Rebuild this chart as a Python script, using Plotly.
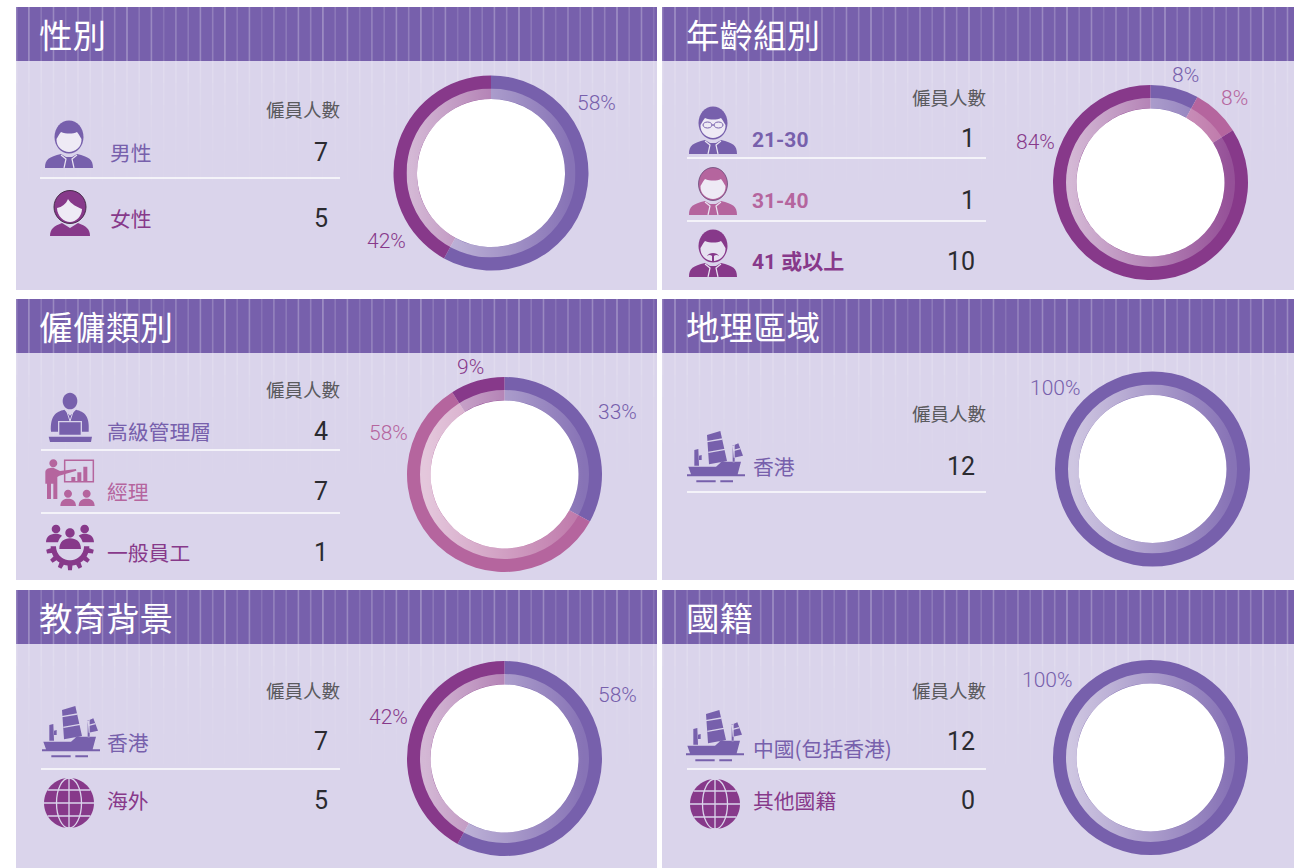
import re, base64
import numpy as np
import plotly.graph_objects as go

W, H = 1294, 868
PURPLE = "#7760AC"; PINK = "#B5659E"; MAG = "#87398A"; BG = "#DAD4EB"; HEAD = "#7760AC"
GREY = "#5A5A5E"; DARK = "#2B2B30"
CJK = "Noto Sans CJK TC"; NUM = "Roboto, Noto Sans CJK TC"

# ---- data ----
titles = ["性別", "年齡組別", "僱傭類別", "地理區域", "教育背景", "國籍"]
column_title = "僱員人數"
gender_labels = ["男性", "女性"];                 gender_counts = [7, 5];        gender_pct = [58, 42]
age_labels = ["21-30", "31-40", "41 或以上"];      age_counts = [1, 1, 10];       age_pct = [8, 8, 84]
job_labels = ["高級管理層", "經理", "一般員工"];     job_counts = [4, 7, 1];        job_pct = [33, 58, 9]
region_labels = ["香港"];                          region_counts = [12];          region_pct = [100]
edu_labels = ["香港", "海外"];                     edu_counts = [7, 5];           edu_pct = [58, 42]
nation_labels = ["中國(包括香港)", "其他國籍"];      nation_counts = [12, 0];       nation_pct = [100, 0]

# ---- layout description (positions and styles only) ----
panels = [
    dict(x0=16, x1=657, y0=7, y1=290, cols=[PURPLE, MAG], labels=gender_labels, counts=gender_counts, pct=gender_pct,
         c=(491, 173), head_y=109, lab_x=110, lab_y=[153, 219], num_y=[152, 218], div=[178], div_x=(40, 340), num_x=327,
         pct_pos=[(596, 103), (386, 241)]),
    dict(x0=662, x1=1294, y0=7, y1=290, cols=[PURPLE, PINK, MAG], labels=age_labels, counts=age_counts, pct=age_pct,
         c=(1150.5, 182.5), head_y=97, lab_x=752, lab_y=[140, 201, 262], num_y=[138, 200, 261], div=[158, 221], div_x=(687, 986), num_x=974,
         pct_pos=[(1185, 75), (1234, 98), (1035, 142)], bold=True),
    dict(x0=16, x1=657, y0=299, y1=580, cols=[PURPLE, PINK, MAG], labels=job_labels, counts=job_counts, pct=job_pct,
         c=(504.5, 474.5), head_y=389, lab_x=107, lab_y=[432, 492, 553], num_y=[431, 491, 552], div=[450, 513], div_x=(41, 340), num_x=327,
         pct_pos=[(617, 412), (388, 433), (470, 367)]),
    dict(x0=662, x1=1294, y0=299, y1=580, cols=[PURPLE], labels=region_labels, counts=region_counts, pct=region_pct,
         c=(1152.5, 469), head_y=413, lab_x=753, lab_y=[467], num_y=[466], div=[492], div_x=(687, 986), num_x=974,
         pct_pos=[(1055, 388)]),
    dict(x0=16, x1=657, y0=590, y1=868, cols=[PURPLE, MAG], labels=edu_labels, counts=edu_counts, pct=edu_pct,
         c=(504.5, 758.5), head_y=690, lab_x=107, lab_y=[743, 801], num_y=[741, 800], div=[769], div_x=(41, 340), num_x=327,
         pct_pos=[(617, 695), (388, 717)]),
    dict(x0=662, x1=1294, y0=590, y1=868, cols=[PURPLE, MAG], labels=nation_labels, counts=nation_counts, pct=nation_pct,
         c=(1150.5, 757.5), head_y=690, lab_x=753, lab_y=[749, 801], num_y=[741, 800], div=[769], div_x=(687, 986), num_x=974,
         pct_pos=[(1047, 680)]),
]
R_OUT, R_MID, R_IN = 97.5, 84.5, 74
PAD = 2.5   # annotations keep this much padding round their text

shapes, annos, images = [], [], []


def shape(path, fill=None, line=None, lw=0, layer="above"):
    shapes.append(dict(type="path", xref="x", yref="y", path=path, layer=layer,
                       fillcolor=fill if fill else "rgba(0,0,0,0)",
                       line=dict(color=line if line else "rgba(0,0,0,0)", width=lw)))


def T(s, ox, oy, k=1.0):
    """Move a local-unit icon path to its place on the page."""
    i = [0]
    def rep(m):
        v = float(m.group())
        r = ox + v * k if i[0] % 2 == 0 else oy + v * k
        i[0] += 1
        return f"{r:.2f}"
    return re.sub(r"-?\d+\.?\d*", rep, s)


def ell(cx, cy, rx, ry=None):
    ry = rx if ry is None else ry
    a, b = 0.5523 * rx, 0.5523 * ry
    return (f"M{cx-rx} {cy} C{cx-rx} {cy-b} {cx-a} {cy-ry} {cx} {cy-ry} "
            f"C{cx+a} {cy-ry} {cx+rx} {cy-b} {cx+rx} {cy} "
            f"C{cx+rx} {cy+b} {cx+a} {cy+ry} {cx} {cy+ry} "
            f"C{cx-a} {cy+ry} {cx-rx} {cy+b} {cx-rx} {cy} Z")


def text(x, y, s, size, color, anchor="left", family=CJK, weight=None):
    dx = {"left": -PAD, "right": PAD, "center": 0}[anchor]
    annos.append(dict(x=x + dx, y=y, xref="x", yref="y", text=s, showarrow=False, xanchor=anchor, yanchor="middle",
                      align=anchor, font=dict(size=size, color=color, family=family, weight=weight)))


# ---- icons ----
def bust(cx, top, col, w=24):
    body = f"M-{w} 47 C-{w} 38 -{w-4} 36 -8 33 L-3 36 L3 36 L8 33 C{w-4} 36 {w} 38 {w} 47 Z"
    shape(T(body, cx, top), fill=col)
    shape(T("M-8 34 L-3 38 L-5 47 M8 34 L3 38 L5 47", cx, top), line="#E9E5F2", lw=1.2)


def man(cx, top, col, kind=0):
    bust(cx, top, col)
    shape(T(ell(0, 16, 14.5, 16.5), cx, top), fill=col, line="#5f3f70" if kind == 1 else None, lw=0.7)
    face = "M-12.5 18 C-11 16 -10 13 -8 11 C-3 13 4 13 8 11 C10 13 11 16 12.5 18 C13 26 6 31 0 31 C-6 31 -13 26 -12.5 18 Z"
    shape(T(face, cx, top), fill="#EEEAF5" if kind != 4 else "#E6E1F0")
    if kind == 3:  # glasses
        shape(T(ell(-5.5, 18, 4.5, 3) + " " + ell(5.5, 18, 4.5, 3) + " M-1 18 L1 18", cx, top), line=col, lw=1)
    if kind == 4:  # beard
        shape(T("M-6 26 C-4 22 4 22 6 26 C4 24.5 2 25 1 26 L1 31 L-1 31 L-1 26 C-2 25 -4 24.5 -6 26 Z", cx, top), fill=col)


def woman(cx, top, col):
    shape(T("M-20 45 C-20 38 -16 35 -8 32 L0 37 L8 32 C16 35 20 38 20 45 Z", cx, top), fill=col)
    shape(T(ell(0, 16, 16, 16.5), cx, top), fill=col, line="#3d2440", lw=0.9)
    shape(T("M-13 17 C-8 16 -4 13 -2 8 C1 13 7 16 12 18 C12 25 6 31 0 31 C-6 31 -13 25 -13 17 Z", cx, top), fill="#EEEAF5")


def ship(left, top, col):
    ox, oy, k = left - 6, top - 6, 1 / 3
    parts = ["M22 125 L105 125 L122 110 L180 110 L170 148 L30 148 Z",
             "M18 148 L192 148 L192 154 L18 154 Z",
             "M46 166 L104 166 L104 172 L46 172 Z", "M118 166 L156 166 L156 172 L118 172 Z",
             "M78 30 L118 18 L138 108 L84 118 Z",
             "M155 62 L172 55 L186 92 L158 98 Z", "M155 60 L161 60 L161 112 L155 112 Z",
             "M40 75 L52 72 L54 122 L40 122 Z", "M54 92 L62 90 L62 105 L54 105 Z"]
    shape(T(" ".join(parts), ox, oy, k), fill=col)
    shape(T("M78 50 L124 42 M82 82 L132 73 M158 76 L178 71", ox, oy, k), line=BG, lw=1.3)


def globe(cx, cy, col, r=25):
    shape(ell(cx, cy, r), fill=col)
    seg = [f"M{cx} {cy-r} L{cx} {cy+r}", ell(cx, cy, r * 0.5, r)]
    for d in (-13, 0, 13):
        hw = (r * r - d * d) ** 0.5
        seg.append(f"M{cx-hw:.1f} {cy+d} L{cx+hw:.1f} {cy+d}")
    shape(" ".join(seg), line=BG, lw=1.3)


def exec_icon(col):
    ox, oy, k = 36, 385, 1 / 3
    shape(T(ell(102, 48, 22, 25), ox, oy, k), fill=col)
    shape(T("M45 140 C42 92 60 80 85 74 L102 92 L120 74 C145 80 162 92 158 140 Z", ox, oy, k), fill=col)
    shape(T("M38 155 L168 155 L165 171 L42 171 Z", ox, oy, k), fill=col)
    shape(T("M68 110 L136 110 L136 151 L68 151 Z", ox, oy, k), fill=col, line=BG, lw=1.3)
    shape(T("M92 78 L102 108 L112 78", ox, oy, k), line=BG, lw=1)


def presenter_icon(col):
    ox, oy, k = 36, 385, 1 / 3
    shape(T(ell(52, 235, 12) + " " + ell(96, 326, 12) + " " + ell(152, 326, 12), ox, oy, k), fill=col)
    shape(T("M28 262 C28 250 40 248 52 248 L72 258 L120 252 L121 257 L70 272 L64 276 L64 342 L52 342 L52 296 L45 296 "
            "L45 342 L33 342 L33 296 L28 296 Z", ox, oy, k), fill=col)
    shape(T("M86 226 L172 226 L172 290 L86 290 Z", ox, oy, k), line=col, lw=1.5)
    shape(T("M106 276 L118 276 L118 290 L106 290 Z M124 262 L136 262 L136 290 L124 290 Z "
            "M142 245 L154 245 L154 290 L142 290 Z", ox, oy, k), fill=col)
    shape(T("M73 363 C73 346 85 341 96 341 C107 341 120 346 120 363 Z "
            "M128 363 C128 346 140 341 152 341 C164 341 176 346 176 363 Z", ox, oy, k), fill=col)


def gear_icon(col):
    ox, oy, k = 36, 385, 1 / 3
    cx, cy = 102, 484
    pts = []
    n_teeth = 7
    for i in range(n_teeth):
        a0 = np.pi * i / n_teeth
        a1 = np.pi * (i + 1) / n_teeth
        for f, r in ((0.0, 58), (0.22, 58), (0.32, 72), (0.68, 72), (0.78, 58), (1.0, 58)):
            a = a0 + (a1 - a0) * f
            pts.append((cx + r * np.cos(a), cy + r * np.sin(a)))
    inner = [(cx + 42 * np.cos(a), cy + 42 * np.sin(a)) for a in np.linspace(np.pi, 0, 24)]
    p = "M" + " L".join(f"{x:.1f} {y:.1f}" for x, y in pts + inner) + " Z"
    shape(T(p, ox, oy, k), fill=col)
    shape(T(ell(60, 432, 13) + " " + ell(102, 444, 14) + " " + ell(146, 432, 13), ox, oy, k), fill=col)
    shape(T("M30 472 C30 452 45 446 60 446 C66 446 72 448 78 452 C72 458 68 464 66 472 Z "
            "M174 472 C174 452 159 446 146 446 C140 446 134 448 128 452 C134 458 138 464 140 472 Z "
            "M70 492 C70 470 85 460 102 460 C120 460 135 470 135 492 Z", ox, oy, k), fill=col)


# ---- panels ----
STRIPE_ALPHA = [0.20, 0.30, 0.15, 0.26, 0.12, 0.22, 0.16, 0.26]
PITCH = 12.25
FADE = [(0, 22, 0.17), (22, 44, 0.13), (44, 66, 0.09), (66, 90, 0.06), (90, 120, 0.03)]

for n, p in enumerate(panels):
    y_head = p["y0"] + 54
    shape(f"M{p['x0']} {p['y0']} L{p['x1']} {p['y0']} L{p['x1']} {p['y1']} L{p['x0']} {p['y1']} Z", fill=BG, layer="below")
    shape(f"M{p['x0']} {p['y0']} L{p['x1']} {p['y0']} L{p['x1']} {y_head} L{p['x0']} {y_head} Z", fill=HEAD, layer="below")
    xs = np.arange(p["x0"] + 0.7, p["x1"], PITCH)
    for g, alpha in enumerate(STRIPE_ALPHA):
        chosen = xs[g::len(STRIPE_ALPHA)]
        shape(" ".join(f"M{x:.1f} {p['y0']} L{x:.1f} {y_head}" for x in chosen),
              line=f"rgba(255,255,255,{alpha:.2f})", lw=1.6, layer="below")
    for a, b, alpha in FADE:
        shape(" ".join(f"M{x:.1f} {y_head+a} L{x:.1f} {y_head+b}" for x in xs),
              line=f"rgba(255,255,255,{alpha})", lw=1.6, layer="below")

    text(p["x0"] + 23 if p["x0"] < 100 else p["x0"] + 24, p["y0"] + 26, titles[n], 33.5, "white", weight=400)
    text(p["div_x"][1] - 1, p["head_y"], column_title, 18.5, GREY, anchor="right")

    for d in p["div"]:
        shape(f"M{p['div_x'][0]} {d} L{p['div_x'][1]} {d}", line="rgba(255,255,255,0.95)", lw=1.5)

    for i, lab in enumerate(p["labels"]):
        col = p["cols"][i]
        if p.get("bold"):
            text(p["lab_x"], p["lab_y"][i], lab, 21, col, family=NUM, weight=700)
        else:
            text(p["lab_x"], p["lab_y"][i] - 1.5, lab, 20.8, col)
        text(p["num_x"], p["num_y"][i], str(p["counts"][i]), 25, DARK, anchor="right", family=NUM, weight=400)

    for i, pos in enumerate(p["pct_pos"]):
        text(pos[0], pos[1], f"{p['pct'][i]}%", 21, p["cols"][i], anchor="center", family=NUM, weight=300)

    # white centre
    cx, cy = p["c"]
    shape(ell(cx, cy, R_IN + 0.5), fill="white", layer="below")

    # lighter inner band: gradient laid over the ring
    s = 2 * R_MID
    mid = (R_MID + R_IN) / 2
    svg = (f'<svg xmlns="http://www.w3.org/2000/svg" width="{s}" height="{s}" viewBox="0 0 {s} {s}">'
           f'<defs><linearGradient id="g" x1="0" x2="1" y1="0" y2="0">'
           f'<stop offset="0" stop-color="#fff" stop-opacity="0.64"/>'
           f'<stop offset="1" stop-color="#fff" stop-opacity="0.12"/></linearGradient></defs>'
           f'<circle cx="{R_MID}" cy="{R_MID}" r="{mid}" fill="none" stroke="url(#g)" stroke-width="{R_MID-R_IN}"/></svg>')
    images.append(dict(source="data:image/svg+xml;base64," + base64.b64encode(svg.encode()).decode(),
                       xref="paper", yref="paper", x=(cx - R_MID) / W, y=1 - (cy - R_MID) / H,
                       sizex=s / W, sizey=s / H, xanchor="left", yanchor="top", sizing="stretch", layer="above"))

# icons, one per row
man(69, 121, PURPLE)
woman(70, 191, MAG)
man(713, 107, PURPLE, kind=3)
man(713, 168, PINK, kind=1)
man(713, 230, MAG, kind=4)
exec_icon(PURPLE)
presenter_icon(PINK)
gear_icon(MAG)
ship(687, 431, PURPLE)
ship(42, 706, PURPLE)
ship(686, 710, PURPLE)
globe(69, 803, MAG)
globe(715, 804, MAG)

# ---- figure ----
traces = [go.Scatter(x=[None], y=[None], xaxis="x", yaxis="y", showlegend=False, hoverinfo="skip")]
for p in panels:
    cx, cy = p["c"]
    traces.append(go.Pie(values=p["pct"], labels=list(p["labels"]), sort=False, direction="clockwise", rotation=0,
                         hole=R_IN / R_OUT, marker=dict(colors=p["cols"], line=dict(width=0)), textinfo="none",
                         showlegend=False, domain=dict(x=[(cx - R_OUT) / W, (cx + R_OUT) / W],
                                                       y=[1 - (cy + R_OUT) / H, 1 - (cy - R_OUT) / H])))

fig = go.Figure(traces)
fig.update_layout(width=W, height=H, margin=dict(l=0, r=0, t=0, b=0, pad=0), autosize=False,
                  paper_bgcolor="white", plot_bgcolor="rgba(0,0,0,0)", showlegend=False,
                  xaxis=dict(range=[0, W], visible=False, fixedrange=True),
                  yaxis=dict(range=[H, 0], visible=False, fixedrange=True),
                  shapes=shapes, annotations=annos, images=images)
fig.write_html("out.html", config=dict(displayModeBar=False),
               post_script="document.body.style.margin='0';document.body.style.overflow='hidden';")
